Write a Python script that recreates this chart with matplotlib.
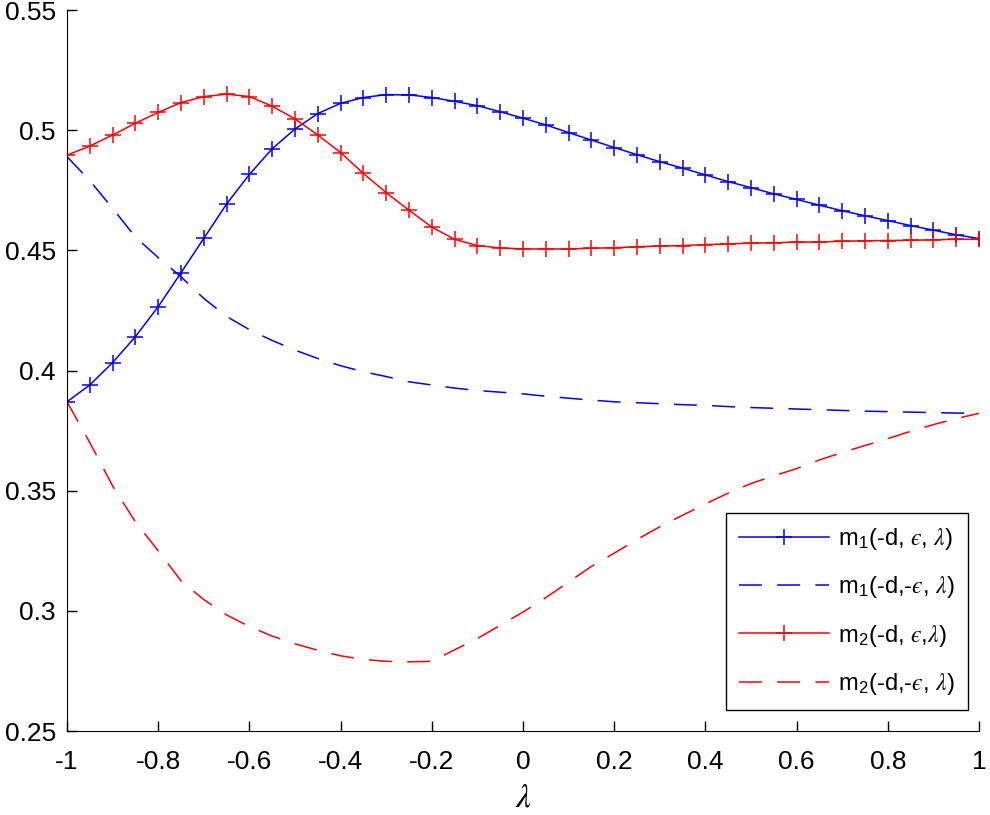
import numpy as np
import matplotlib
matplotlib.use("Agg")
import matplotlib.pyplot as plt
from matplotlib.ticker import FormatStrFormatter

plt.rcParams['font.family'] = ['Liberation Sans', 'DejaVu Sans']
plt.rcParams['mathtext.fontset'] = 'custom'
plt.rcParams['mathtext.rm'] = 'Liberation Sans'
plt.rcParams['mathtext.it'] = 'STIXGeneral:italic'
plt.rcParams['mathtext.bf'] = 'Liberation Sans:bold'
plt.rcParams['axes.unicode_minus'] = False

# lambda grid, step 0.05
lam = np.round(np.linspace(-1, 1, 41), 2)

# m1(-d, eps, lambda)  - blue solid with +
m1_pos = [0.387, 0.394, 0.4033, 0.4141, 0.4266, 0.4407, 0.455, 0.4693, 0.4816, 0.4923,
          0.5005, 0.5069, 0.5112, 0.5136, 0.5148, 0.5147, 0.5136, 0.512, 0.5102, 0.5077,
          0.505, 0.5022, 0.499, 0.4959, 0.4928, 0.4898, 0.4869, 0.4842, 0.4814, 0.4786,
          0.4761, 0.4735, 0.4712, 0.4688, 0.4665, 0.4644, 0.4624, 0.4603, 0.4584, 0.4565,
          0.4549]

# m1(-d, -eps, lambda) - blue dashed
m1_neg = [0.489, 0.479, 0.4675, 0.4555, 0.447, 0.439, 0.430, 0.4225, 0.417, 0.4125,
          0.4085, 0.405, 0.402, 0.3995, 0.3975, 0.3953, 0.394, 0.3927, 0.3917, 0.391,
          0.3903, 0.3893, 0.3885, 0.3877, 0.387, 0.3866, 0.3862, 0.3858, 0.3855, 0.385,
          0.3846, 0.3843, 0.384, 0.3837, 0.3834, 0.3831, 0.3829, 0.3827, 0.3825, 0.3823,
          0.3822]

# m2(-d, eps, lambda)  - red solid with +
m2_pos = [0.4896, 0.4934, 0.498, 0.5029, 0.5074, 0.5115, 0.514, 0.515, 0.514, 0.510,
          0.5047, 0.498, 0.4907, 0.482, 0.474, 0.4667, 0.4597, 0.4546, 0.452, 0.451,
          0.4506, 0.4506, 0.4506, 0.4509, 0.4511, 0.4515, 0.4518, 0.452, 0.4524, 0.4527,
          0.453, 0.4532, 0.4534, 0.4535, 0.4538, 0.454, 0.4541, 0.4542, 0.4544, 0.4546,
          0.4546]

# m2(-d, -eps, lambda) - red dashed
m2_neg = [0.387, 0.370, 0.352, 0.337, 0.325, 0.3125, 0.3047, 0.2983, 0.2935, 0.2895,
          0.2863, 0.2836, 0.2813, 0.2798, 0.279, 0.2788, 0.279, 0.2838, 0.2885, 0.294,
          0.2995, 0.3055, 0.312, 0.3185, 0.324, 0.3297, 0.335, 0.3398, 0.3445, 0.349,
          0.353, 0.3562, 0.3592, 0.3628, 0.3659, 0.3688, 0.3717, 0.3747, 0.3775, 0.380,
          0.3822]

xticks = [-1, -0.8, -0.6, -0.4, -0.2, 0, 0.2, 0.4, 0.6, 0.8, 1]
yticks = [0.25, 0.3, 0.35, 0.4, 0.45, 0.5, 0.55]

labels = ['m$_1$(-d, $\u03f5$, $\\lambda$)',
          'm$_1$(-d,-$\u03f5$, $\\lambda$)',
          'm$_2$(-d, $\u03f5$,$\\lambda$)',
          'm$_2$(-d,-$\u03f5$, $\\lambda$)']

fig = plt.figure(figsize=(9.9, 8.15), dpi=100)
ax = fig.add_axes([0.0677, 0.103, 0.9212, 0.8847])

dash = (0, (15, 10))
ax.plot(lam, m1_pos, color='blue', lw=1.1, marker='+', ms=12, mew=1.1, label=labels[0])
ax.plot(lam, m1_neg, color='blue', lw=1.1, linestyle=dash, label=labels[1])
ax.plot(lam, m2_pos, color='red', lw=1.1, marker='+', ms=12, mew=1.1, label=labels[2])
ax.plot(lam, m2_neg, color='red', lw=1.1, linestyle=dash, label=labels[3])

ax.set_xlim(-1, 1)
ax.set_ylim(0.25, 0.55)
ax.set_xticks(xticks)
ax.set_yticks(yticks)
ax.xaxis.set_major_formatter(FormatStrFormatter('%g'))
ax.yaxis.set_major_formatter(FormatStrFormatter('%g'))
ax.tick_params(direction='in', length=7, width=1, labelsize=19)
ax.tick_params(axis='x', pad=14)
ax.tick_params(axis='y', pad=8)
ax.spines['top'].set_visible(False)
ax.spines['right'].set_visible(False)

ax.set_xlabel(r'$\lambda$', fontsize=24, labelpad=6)

leg = ax.legend(loc='lower right', bbox_to_anchor=(0.988, 0.029), borderaxespad=0,
                fontsize=17, handlelength=3.8, handletextpad=0.4, fancybox=False,
                framealpha=1, edgecolor='black', borderpad=0.55, labelspacing=0.95)
leg.get_frame().set_linewidth(1)

fig.savefig('out.png', dpi=100)
